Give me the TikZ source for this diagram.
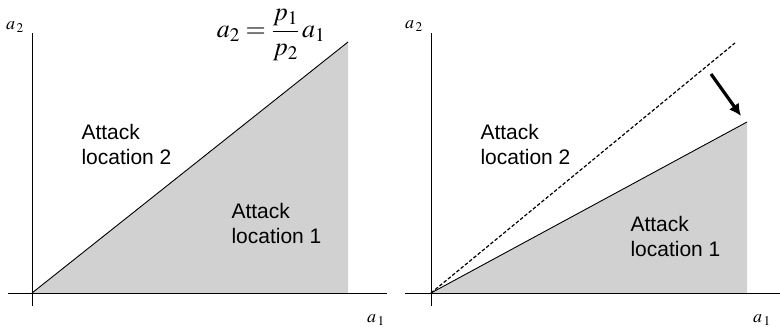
\documentclass[tikz,border=0pt]{standalone}
\usepackage{mathptmx}
\usepackage{fontspec}
\setmainfont{Liberation Serif}
\newfontfamily\regionfont{Liberation Sans}
\usetikzlibrary{arrows.meta,positioning}

\begin{document}
\begin{tikzpicture}[>=Latex, x=1pt, y=1pt,
    axis/.style={line width=0.9pt},
    region/.style={font=\regionfont\fontsize{21}{25}\selectfont, align=left, anchor=west},
    axlabel/.style={font=\fontsize{18}{20}\selectfont, inner sep=0pt}]
\useasboundingbox (0,0) rectangle (780,327);

\coordinate (o1) at (32,34);
\coordinate (o2) at (431,34);

\fill[black!18] (o1) -- (348,34) -- (348,285) -- cycle;
\draw[line width=0.9pt] (o1) -- (348,285);
\draw[axis] (8,34) -- (387,34);
\draw[axis] (32,21) -- (32,294);
\node[axlabel] (a2l) at (15,300) {$a_{\,2}$};
\node[axlabel] (a1l) at (376,7) {$a_{\,1}$};
\node[font=\fontsize{26}{30}\selectfont, inner sep=0pt] (eq) at (271,292)
    {$\displaystyle a_2=\frac{p_1}{p_2}\,a_1$};
\node[region] (loc2l) at (78,183) {Attack\\location 2};
\node[region] (loc1l) at (228,104) {Attack\\location 1};

\fill[black!18] (o2) -- (747,34) -- (747,205) -- cycle;
\draw[line width=0.9pt] (o2) -- (747,205);
\draw[line width=1.2pt, dash pattern=on 3.5pt off 2pt] (o2) -- (735,284);
\draw[axis] (405,34) -- (780,34);
\draw[axis] (431,21) -- (431,294);
\node[axlabel] (a2r) at (414,301) {$a_{\,2}$};
\node[axlabel] (a1r) at (762,7) {$a_{\,1}$};
\node[region] (loc2r) at (477,183) {Attack\\location 2};
\node[region] (loc1r) at (627,91) {Attack\\location 1};

\coordinate (shift0) at (711,253);
\coordinate (shift1) at (741,211);
\draw[-{Latex[length=12pt,width=12pt]}, line width=3.2pt] (shift0) -- (shift1);
\end{tikzpicture}
\end{document}
